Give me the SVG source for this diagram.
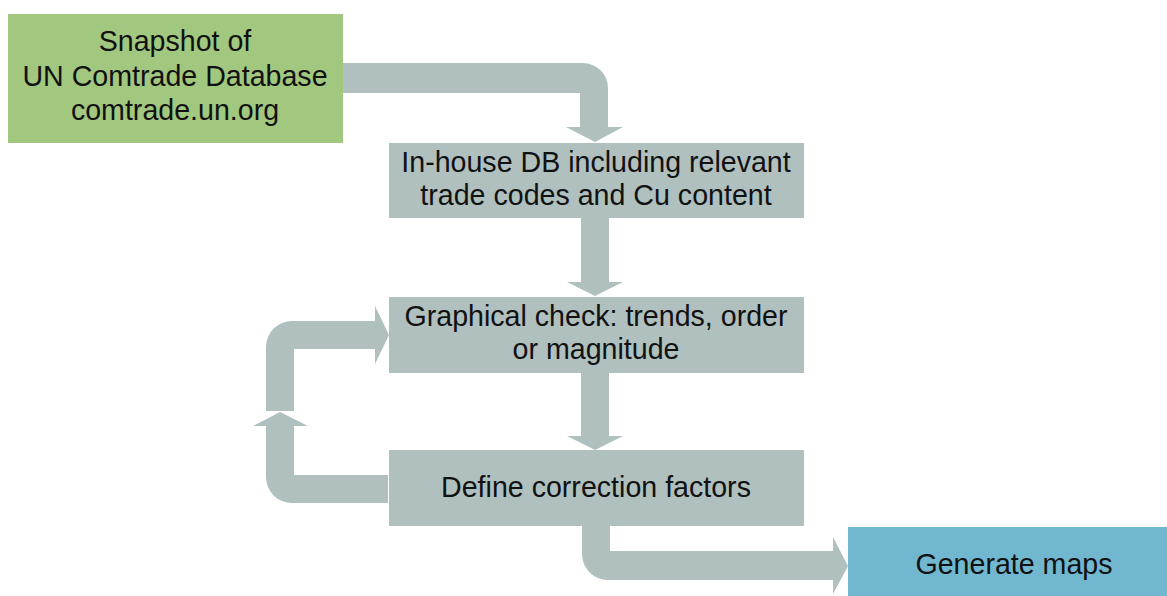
<svg xmlns="http://www.w3.org/2000/svg" width="1167" height="596" viewBox="0 0 1167 596">
<style>
.box{fill:#afc0bf}
.arr{fill:#afc0bf}
text{font-family:"Liberation Sans",Arial,sans-serif;font-size:28.6px;fill:#111;text-anchor:middle}
</style>
<rect width="1167" height="596" fill="#ffffff"/>
<g id="connectors">
<path class="arr" d="M342,63 L583,63 A25,25 0 0 1 608,88 L608,127 L623,127 L595,142 L566,127 L580,127 L580,93 L342,93 Z"/>
<path class="arr" d="M581,217 L609,217 L609,282 L623,282 L595,296 L567,282 L581,282 Z"/>
<path class="arr" d="M581,373 L609,373 L609,436 L623,436 L595,450 L567,436 L581,436 Z"/>
<path class="arr" d="M582,526 L610,526 L610,551 L833,551 L833,537 L848,566 L833,594 L833,580 L608,580 A26,26 0 0 1 582,554 Z"/>
<path class="arr" d="M388,475 L388,503 L292,503 A26,26 0 0 1 266,477 L266,426 L253,426 L280,412 L308,426 L294,426 L294,475 Z"/>
<path class="arr" d="M266,411 L266,347 A26,26 0 0 1 292,321 L375,321 L375,306 L389,335 L375,364 L375,349 L294,349 L294,411 Z"/>
</g>
<g id="node-snapshot">
<rect x="8" y="14" width="335" height="129" fill="#a2c77f"/>
<text x="175" y="51">Snapshot of</text>
<text x="175" y="86">UN Comtrade Database</text>
<text x="175" y="120">comtrade.un.org</text>
</g>
<g id="node-inhouse">
<rect class="box" x="389" y="143" width="415" height="75"/>
<text x="596" y="172">In-house DB including relevant</text>
<text x="596" y="205">trade codes and Cu content</text>
</g>
<g id="node-check">
<rect class="box" x="389" y="297" width="415" height="76"/>
<text x="596" y="326">Graphical check: trends, order</text>
<text x="596" y="359">or magnitude</text>
</g>
<g id="node-define">
<rect class="box" x="389" y="450" width="415" height="76"/>
<text x="596" y="497">Define correction factors</text>
</g>
<g id="node-maps">
<rect x="848" y="527" width="319" height="69" fill="#70b7cf"/>
<text x="1014" y="574">Generate maps</text>
</g>
</svg>
